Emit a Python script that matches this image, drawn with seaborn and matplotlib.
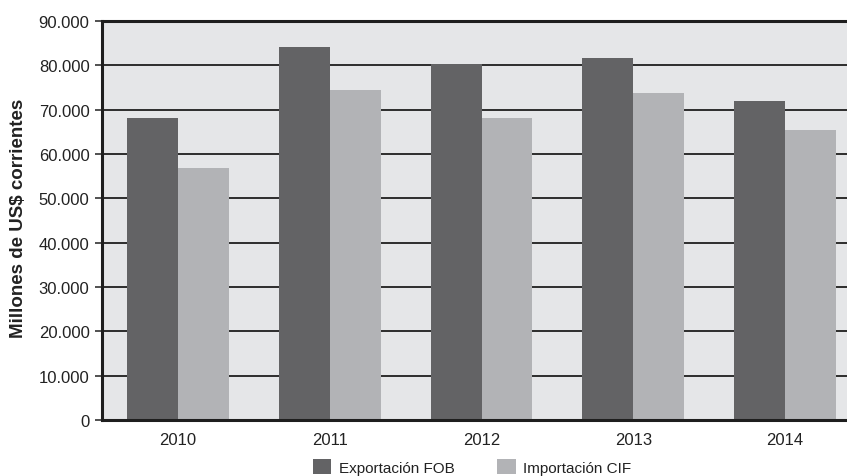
import matplotlib
matplotlib.use("Agg")
import matplotlib.pyplot as plt
import seaborn as sns
import pandas as pd
from matplotlib.ticker import FuncFormatter, FixedLocator

years = ["2010", "2011", "2012", "2013", "2014"]
exportacion = [68100, 84100, 80300, 81700, 72000]
importacion = [56800, 74400, 68100, 73800, 65400]
series_names = ["Exportación FOB", "Importación CIF"]

df = pd.DataFrame({
    "year": years * 2,
    "value": exportacion + importacion,
    "serie": [series_names[0]] * len(years) + [series_names[1]] * len(years),
})

sns.set_theme(style="white")
fam = ["Liberation Sans", "DejaVu Sans"]
plt.rcParams["font.family"] = fam

fig = plt.figure(figsize=(8.47, 4.77), dpi=100)
W, H = 847, 477
left, right, top, bottom = 102, 861, 22, 421
ax = fig.add_axes([left / W, 1 - bottom / H, (right - left) / W, (bottom - top) / H])
ax.set_facecolor("#e5e6e8")

sns.barplot(data=df, x="year", y="value", hue="serie", ax=ax,
            palette=["#636365", "#b2b3b6"], width=0.67, saturation=1,
            linewidth=0, edgecolor="none", zorder=3)

ax.set_xlim(-0.5, 4.5)
ax.set_ylim(0, 90000)
ax.yaxis.set_major_locator(FixedLocator(range(0, 90001, 10000)))
ax.yaxis.set_major_formatter(FuncFormatter(lambda v, p: f"{int(v):,}".replace(",", ".")))
for v in range(10000, 90000, 10000):
    ax.axhline(v, color="#1e1e1e", lw=1.3, zorder=1)

ax.set_xticks(range(len(years)))
ax.set_xticklabels(years)
ax.set_xticks([i - 0.5 for i in range(len(years) + 1)], minor=True)
ax.tick_params(axis="x", which="major", length=0, pad=9, labelsize=12, colors="#222222")
ax.tick_params(axis="x", which="minor", length=6, width=1.2, color="#333333", direction="out")
ax.tick_params(axis="y", which="major", length=5, width=1.2, color="#333333",
               direction="out", pad=4, labelsize=12, labelcolor="#222222", left=True)

for s in ["left", "bottom", "top"]:
    ax.spines[s].set_visible(True)
    ax.spines[s].set_color("#1e1e1e")
    ax.spines[s].set_linewidth(2.2)
    ax.spines[s].set_zorder(5)
ax.spines["right"].set_visible(False)

ax.set_xlabel("")
ax.set_ylabel("Millones de US\\$ corrientes", fontsize=13.5, fontweight="bold",
              color="#222222")
ax.yaxis.set_label_coords(-(102 - 27) / (right - left), (bottom - 218) / (bottom - top))

ax.get_legend().remove()
handles, labels = ax.get_legend_handles_labels()
fig.legend(handles, labels, loc="center", bbox_to_anchor=(472 / W, 1 - 468 / H),
           ncol=2, frameon=False, prop={"size": 11},
           handlelength=1.2, handleheight=1.1, handletextpad=0.5, columnspacing=2.8,
           labelcolor="#222222")

fig.savefig("out.png", dpi=100)
